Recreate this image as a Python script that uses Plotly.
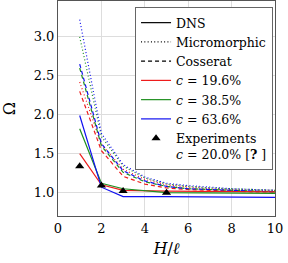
import plotly.graph_objects as go

# ---- data ----
x_model = [1, 2, 3, 4, 5, 6, 7, 8, 9, 10]
micro_red = [2.42, 1.62, 1.30, 1.17, 1.10, 1.07, 1.05, 1.04, 1.03, 1.03]
micro_green = [3.00, 1.72, 1.34, 1.19, 1.11, 1.08, 1.06, 1.05, 1.04, 1.03]
micro_blue = [3.22, 1.76, 1.36, 1.20, 1.12, 1.09, 1.07, 1.05, 1.04, 1.03]
coss_red = [2.30, 1.54, 1.21, 1.11, 1.06, 1.04, 1.03, 1.02, 1.01, 1.01]
coss_green = [2.60, 1.60, 1.26, 1.14, 1.08, 1.05, 1.04, 1.03, 1.02, 1.01]
coss_blue = [2.65, 1.63, 1.28, 1.15, 1.08, 1.05, 1.04, 1.03, 1.02, 1.01]

x_dns = [1, 2, 3, 5, 10]
dns_red = [1.50, 1.10, 1.03, 1.02, 1.01]
dns_green = [1.82, 1.12, 1.05, 1.00, 0.99]
dns_blue = [1.99, 1.07, 0.95, 0.95, 0.94]

x_exp = [1, 2, 3, 5]
y_exp = [1.34, 1.09, 1.02, 1.00]

colors = {"red": "#ee1c1c", "green": "#1f8f1f", "blue": "#1010f0"}
FONT = "DejaVu Serif"
DOT = "1px,2.3px"
DASH = "4px,3px"

fig = go.Figure()

def add(x, y, color, dash):
    fig.add_trace(go.Scatter(x=x, y=y, mode="lines", showlegend=False,
                             line=dict(color=color, width=1.2, dash=dash)))

add(x_model, micro_red, colors["red"], DOT)
add(x_model, micro_green, colors["green"], DOT)
add(x_model, micro_blue, colors["blue"], DOT)
add(x_model, coss_red, colors["red"], DASH)
add(x_model, coss_green, colors["green"], DASH)
add(x_model, coss_blue, colors["blue"], DASH)
add(x_dns, dns_red, colors["red"], "solid")
add(x_dns, dns_green, colors["green"], "solid")
add(x_dns, dns_blue, colors["blue"], "solid")

# legend entries
def leg(name, color, dash):
    fig.add_trace(go.Scatter(x=[None], y=[None], mode="lines", name=name,
                             line=dict(color=color, width=1.2, dash=dash)))

leg("DNS", "black", "solid")
leg("Micromorphic", "black", DOT)
leg("Cosserat", "black", DASH)
leg("<i>c</i> = 19.6%", colors["red"], "solid")
leg("<i>c</i> = 38.5%", colors["green"], "solid")
leg("<i>c</i> = 63.6%", colors["blue"], "solid")

fig.add_trace(go.Scatter(x=x_exp, y=y_exp, mode="markers",
                         name="Experiments<br><i>c</i> = 20.0% [<b>?</b> ]",
                         marker=dict(symbol="triangle-up", size=8, color="black")))

fig.update_layout(
    width=288, height=263,
    margin=dict(l=58, r=13, t=1, b=47, autoexpand=False),
    paper_bgcolor="white", plot_bgcolor="white",
    font=dict(family=FONT, size=13, color="black"),
    legend=dict(x=0.355, y=0.972, xanchor="left", yanchor="top",
                bgcolor="white", bordercolor="#666", borderwidth=1,
                font=dict(family=FONT, size=12.5), valign="top",
                tracegroupgap=0),
    xaxis=dict(range=[0, 10], tickvals=[0, 2, 4, 6, 8, 10],
               showgrid=True, gridcolor="#dddddd", gridwidth=1, automargin=False,
               zeroline=False, showline=True, linecolor="#555", linewidth=1,
               mirror=True, ticks="", title=dict(text="<i>H</i>/<i>ℓ</i>", standoff=8)),
    yaxis=dict(range=[0.7, 3.46], tickvals=[1.0, 1.5, 2.0, 2.5, 3.0],
               tickformat=".1f", automargin=False,
               showgrid=True, gridcolor="#dddddd", gridwidth=1,
               zeroline=False, showline=True, linecolor="#555", linewidth=1,
               mirror=True, ticks="", title=dict(text="Ω", standoff=18)),
)

fig.write_html("out.html", config={"displayModeBar": False},
               post_script="document.body.style.margin='0';document.body.style.padding='0';")
